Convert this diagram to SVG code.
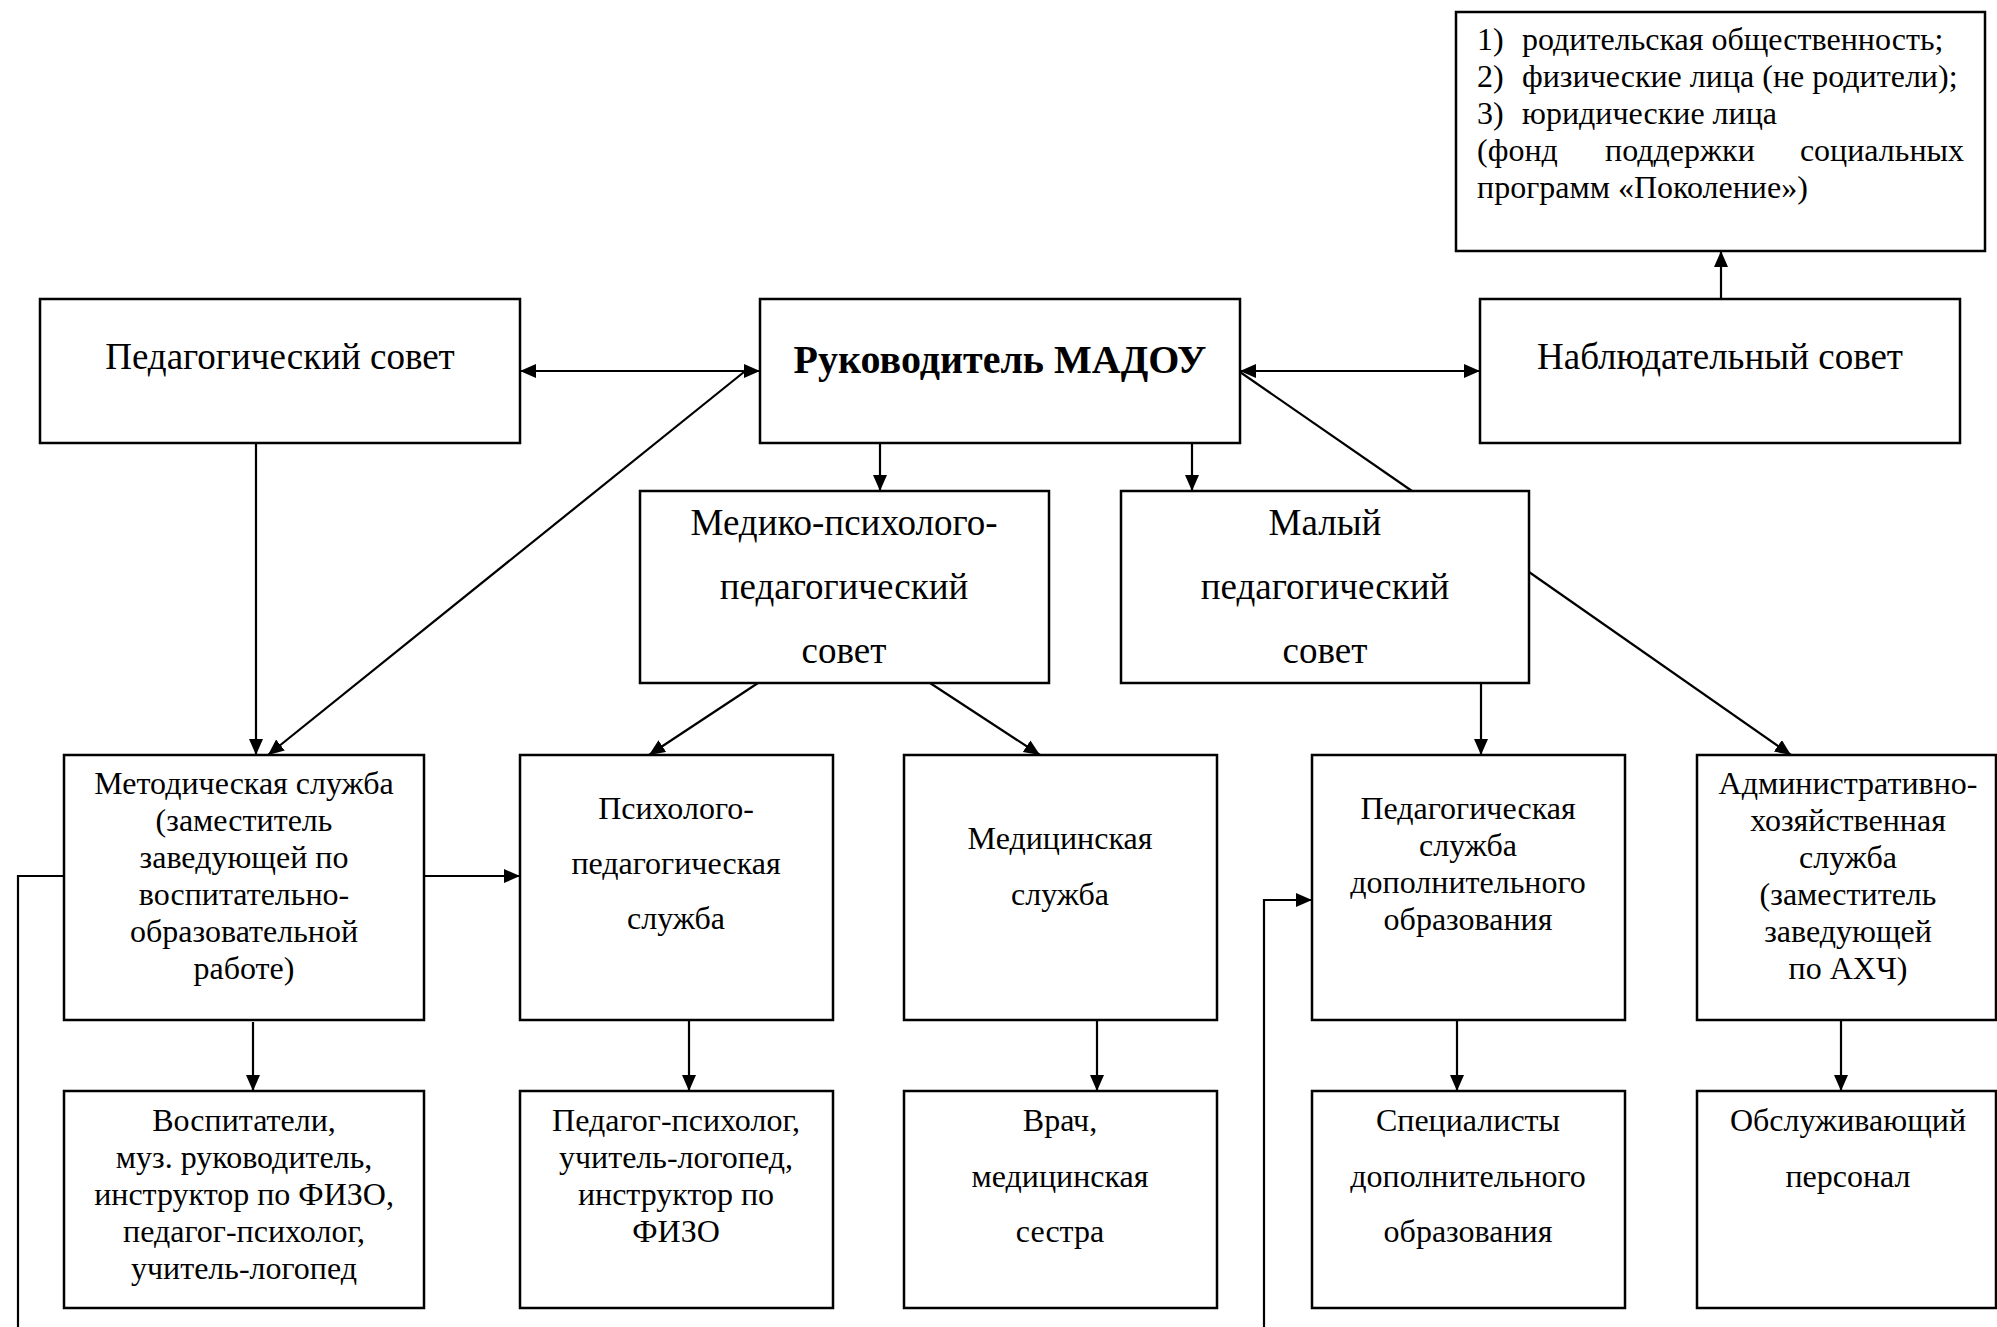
<svg xmlns="http://www.w3.org/2000/svg" width="1997" height="1327" viewBox="0 0 1997 1327">
<style>
.box{fill:#fff;stroke:#000;stroke-width:2.5}
.t{font-family:"Liberation Serif","Times New Roman",serif;font-size:32px;fill:#000;text-anchor:middle}
.tl{font-family:"Liberation Serif","Times New Roman",serif;font-size:32px;fill:#000}
.big{font-size:37px}
.bold{font-size:40px;font-weight:bold}
.conn{fill:none;stroke:#000;stroke-width:2.2}
</style>
<defs>
<marker id="ah" markerUnits="userSpaceOnUse" markerWidth="18" markerHeight="16" refX="16" refY="7" orient="auto-start-reverse">
<path d="M0,0 L16,7 L0,14 z" fill="#000"/>
</marker>
</defs>
<rect width="1997" height="1327" fill="#fff"/>

<g id="connectors">
<path class="conn" d="M520,371 H760" marker-start="url(#ah)" marker-end="url(#ah)"/>
<path class="conn" d="M1240,371 H1480" marker-start="url(#ah)" marker-end="url(#ah)"/>
<path class="conn" d="M1721,299 V251" marker-end="url(#ah)"/>
<path class="conn" d="M256,443 V755" marker-end="url(#ah)"/>
<path class="conn" d="M744,372 L268,755" marker-end="url(#ah)"/>
<path class="conn" d="M880,443 V491" marker-end="url(#ah)"/>
<path class="conn" d="M1192,443 V491" marker-end="url(#ah)"/>
<path class="conn" d="M1240,372 L1412,491"/>
<path class="conn" d="M758,683 L649,755" marker-end="url(#ah)"/>
<path class="conn" d="M930,683 L1040,755" marker-end="url(#ah)"/>
<path class="conn" d="M1481,683 V755" marker-end="url(#ah)"/>
<path class="conn" d="M1529,572 L1791,755" marker-end="url(#ah)"/>
<path class="conn" d="M424,876 H520" marker-end="url(#ah)"/>
<path class="conn" d="M64,876 H18 V1327"/>
<path class="conn" d="M1264,1327 V900 H1312" marker-end="url(#ah)"/>
<path class="conn" d="M253,1022 V1091" marker-end="url(#ah)"/>
<path class="conn" d="M689,1020 V1091" marker-end="url(#ah)"/>
<path class="conn" d="M1097,1020 V1091" marker-end="url(#ah)"/>
<path class="conn" d="M1457,1020 V1091" marker-end="url(#ah)"/>
<path class="conn" d="M1841,1020 V1091" marker-end="url(#ah)"/>
</g>

<g id="n-stakeholders">
<rect class="box" x="1456" y="12" width="529" height="239"/>
<text class="tl"><tspan x="1477" y="50">1)</tspan><tspan x="1522" y="50">родительская общественность;</tspan></text>
<text class="tl"><tspan x="1477" y="87">2)</tspan><tspan x="1522" y="87">физические лица (не родители);</tspan></text>
<text class="tl"><tspan x="1477" y="124">3)</tspan><tspan x="1522" y="124">юридические лица</tspan></text>
<text class="tl"><tspan x="1477" y="161">(фонд</tspan><tspan x="1605" y="161">поддержки</tspan></text>
<text class="tl" x="1964" y="161" text-anchor="end">социальных</text>
<text class="tl" x="1477" y="198">программ «Поколение»)</text>
</g>

<g id="n-pedsovet">
<rect class="box" x="40" y="299" width="480" height="144"/>
<text class="t big" x="280" y="369">Педагогический совет</text>
</g>

<g id="n-head">
<rect class="box" x="760" y="299" width="480" height="144"/>
<text class="t bold" x="1000" y="373">Руководитель МАДОУ</text>
</g>

<g id="n-supervisory">
<rect class="box" x="1480" y="299" width="480" height="144"/>
<text class="t big" x="1720" y="369">Наблюдательный совет</text>
</g>

<g id="n-mpps">
<rect class="box" x="640" y="491" width="409" height="192"/>
<text class="t big" x="844" y="535">Медико-психолого-</text>
<text class="t big" x="844" y="599">педагогический</text>
<text class="t big" x="844" y="663">совет</text>
</g>

<g id="n-small">
<rect class="box" x="1121" y="491" width="408" height="192"/>
<text class="t big" x="1325" y="535">Малый</text>
<text class="t big" x="1325" y="599">педагогический</text>
<text class="t big" x="1325" y="663">совет</text>
</g>

<g id="n-method">
<rect class="box" x="64" y="755" width="360" height="265"/>
<text class="t" x="244" y="794">Методическая служба</text>
<text class="t" x="244" y="831">(заместитель</text>
<text class="t" x="244" y="868">заведующей по</text>
<text class="t" x="244" y="905">воспитательно-</text>
<text class="t" x="244" y="942">образовательной</text>
<text class="t" x="244" y="979">работе)</text>
</g>

<g id="n-psych">
<rect class="box" x="520" y="755" width="313" height="265"/>
<text class="t" x="676" y="819">Психолого-</text>
<text class="t" x="676" y="874">педагогическая</text>
<text class="t" x="676" y="929">служба</text>
</g>

<g id="n-medical">
<rect class="box" x="904" y="755" width="313" height="265"/>
<text class="t" x="1060" y="849">Медицинская</text>
<text class="t" x="1060" y="905">служба</text>
</g>

<g id="n-adddep">
<rect class="box" x="1312" y="755" width="313" height="265"/>
<text class="t" x="1468" y="819">Педагогическая</text>
<text class="t" x="1468" y="856">служба</text>
<text class="t" x="1468" y="893">дополнительного</text>
<text class="t" x="1468" y="930">образования</text>
</g>

<g id="n-admin">
<rect class="box" x="1697" y="755" width="299" height="265"/>
<text class="t" x="1848" y="794">Административно-</text>
<text class="t" x="1848" y="831">хозяйственная</text>
<text class="t" x="1848" y="868">служба</text>
<text class="t" x="1848" y="905">(заместитель</text>
<text class="t" x="1848" y="942">заведующей</text>
<text class="t" x="1848" y="979">по АХЧ)</text>
</g>

<g id="n-teachers">
<rect class="box" x="64" y="1091" width="360" height="217"/>
<text class="t" x="244" y="1131">Воспитатели,</text>
<text class="t" x="244" y="1168">муз. руководитель,</text>
<text class="t" x="244" y="1205">инструктор по ФИЗО,</text>
<text class="t" x="244" y="1242">педагог-психолог,</text>
<text class="t" x="244" y="1279">учитель-логопед</text>
</g>

<g id="n-psychstaff">
<rect class="box" x="520" y="1091" width="313" height="217"/>
<text class="t" x="676" y="1131">Педагог-психолог,</text>
<text class="t" x="676" y="1168">учитель-логопед,</text>
<text class="t" x="676" y="1205">инструктор по</text>
<text class="t" x="676" y="1242">ФИЗО</text>
</g>

<g id="n-doctor">
<rect class="box" x="904" y="1091" width="313" height="217"/>
<text class="t" x="1060" y="1131">Врач,</text>
<text class="t" x="1060" y="1187">медицинская</text>
<text class="t" x="1060" y="1242">сестра</text>
</g>

<g id="n-specialists">
<rect class="box" x="1312" y="1091" width="313" height="217"/>
<text class="t" x="1468" y="1131">Специалисты</text>
<text class="t" x="1468" y="1187">дополнительного</text>
<text class="t" x="1468" y="1242">образования</text>
</g>

<g id="n-service">
<rect class="box" x="1697" y="1091" width="299" height="217"/>
<text class="t" x="1848" y="1131">Обслуживающий</text>
<text class="t" x="1848" y="1187">персонал</text>
</g>
</svg>
